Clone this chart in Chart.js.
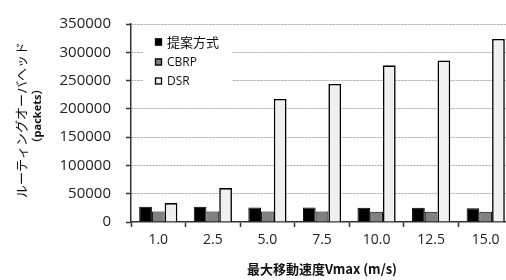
<!DOCTYPE html>
<html>
<head>
<meta charset="utf-8">
<script src="https://cdn.jsdelivr.net/npm/chart.js@4.4.1/dist/chart.umd.min.js"></script>
<style>
html,body{margin:0;padding:0;background:#fff;overflow:hidden;width:506px;height:280px;}
canvas{display:block;}
</style>
</head>
<body>
<canvas id="c" width="514" height="280"></canvas>
<script>
const categories = ['1.0', '2.5', '5.0', '7.5', '10.0', '12.5', '15.0'];
const seriesNames = ['提案方式', 'CBRP', 'DSR'];
const proposed = [27000, 27000, 25500, 25500, 25000, 25000, 24500];
const cbrp = [18500, 18500, 18500, 18500, 18000, 18000, 18000];
const dsr = [33500, 60000, 217500, 244000, 277000, 285500, 323500];
const yTicks = [0, 50000, 100000, 150000, 200000, 250000, 300000, 350000];
const yTitle = ['ルーティングオーバヘッド', '（packets）'];
const xTitle = '最大移動速度Vmax (m/s)';

const LATIN = '"Open Sans", "Noto Sans CJK JP", sans-serif';
const CJK = '"Noto Sans CJK JP", "Open Sans", sans-serif';

const fills = ['#000000', '#808080', '#f0f0f0'];
const borders = [1, 1, 1.6];

const titlesAndLegend = {
  id: 'titlesAndLegend',
  afterDraw(chart) {
    const ctx = chart.ctx;
    ctx.save();
    // y title
    ctx.fillStyle = '#111';
    ctx.textAlign = 'center';
    ctx.textBaseline = 'middle';
    ctx.save();
    ctx.translate(21, 120);
    ctx.rotate(-Math.PI / 2);
    ctx.font = '13px ' + CJK;
    ctx.fillText(yTitle[0], 0, 0);
    ctx.restore();
    ctx.save();
    ctx.translate(38, 116);
    ctx.rotate(-Math.PI / 2);
    ctx.font = 'bold 11px ' + LATIN;
    ctx.fillText(yTitle[1], 0, 0);
    ctx.restore();
    // x title
    ctx.font = 'bold 13px ' + CJK;
    ctx.fillText(xTitle, 322, 269);
    // legend
    ctx.fillStyle = '#fff';
    ctx.fillRect(143, 31, 89, 60);
    const ys = [42, 62, 81];
    chart.data.datasets.forEach((ds, i) => {
      const y = ys[i];
      ctx.fillStyle = ds.backgroundColor;
      ctx.fillRect(155, y - 3.5, 7, 7);
      ctx.strokeStyle = '#000';
      ctx.lineWidth = 1.3;
      ctx.strokeRect(155.5, y - 3, 6, 6);
      ctx.fillStyle = '#111';
      ctx.textAlign = 'left';
      ctx.font = (i === 0 ? '13px ' + CJK : '12px ' + LATIN);
      ctx.fillText(ds.label, 167, y + 0.5);
    });
    ctx.restore();
  }
};

new Chart(document.getElementById('c'), {
  type: 'bar',
  data: {
    labels: categories,
    datasets: [proposed, cbrp, dsr].map((d, i) => ({
      label: seriesNames[i],
      data: d,
      backgroundColor: fills[i],
      borderColor: '#000',
      borderWidth: borders[i],
      categoryPercentage: 0.7,
      barPercentage: 1.0
    }))
  },
  options: {
    responsive: false,
    animation: false,
    devicePixelRatio: 1,
    layout: { padding: { top: 21, right: 1, left: 0, bottom: 0 } },
    plugins: { legend: { display: false }, tooltip: { enabled: false } },
    scales: {
      x: {
        offset: true,
        afterFit: s => { s.height = 58; },
        grid: { drawOnChartArea: false, offset: true, tickLength: 5, tickColor: '#333', tickWidth: 1.5 },
        border: { color: '#333', width: 1.5 },
        ticks: { color: '#222', padding: 5, font: { family: LATIN, size: 14 } }
      },
      y: {
        min: 0,
        max: 350000,
        afterFit: s => { s.width = 131; },
        afterBuildTicks: s => { s.ticks = yTicks.map(v => ({ value: v })); },
        grid: {
          color: c => (c.tick && c.tick.value === 0 ? 'rgba(0,0,0,0)' : '#a8a8a8'),
          lineWidth: 1,
          tickLength: 5,
          tickColor: '#333',
          tickWidth: 1.5,
          tickBorderDash: []
        },
        border: { color: '#333', width: 1.5, dash: [2, 1] },
        ticks: {
          color: '#222',
          padding: 15,
          font: { family: LATIN, size: 15 },
          callback: v => String(v)
        }
      }
    }
  },
  plugins: [titlesAndLegend]
});
</script>
</body>
</html>
